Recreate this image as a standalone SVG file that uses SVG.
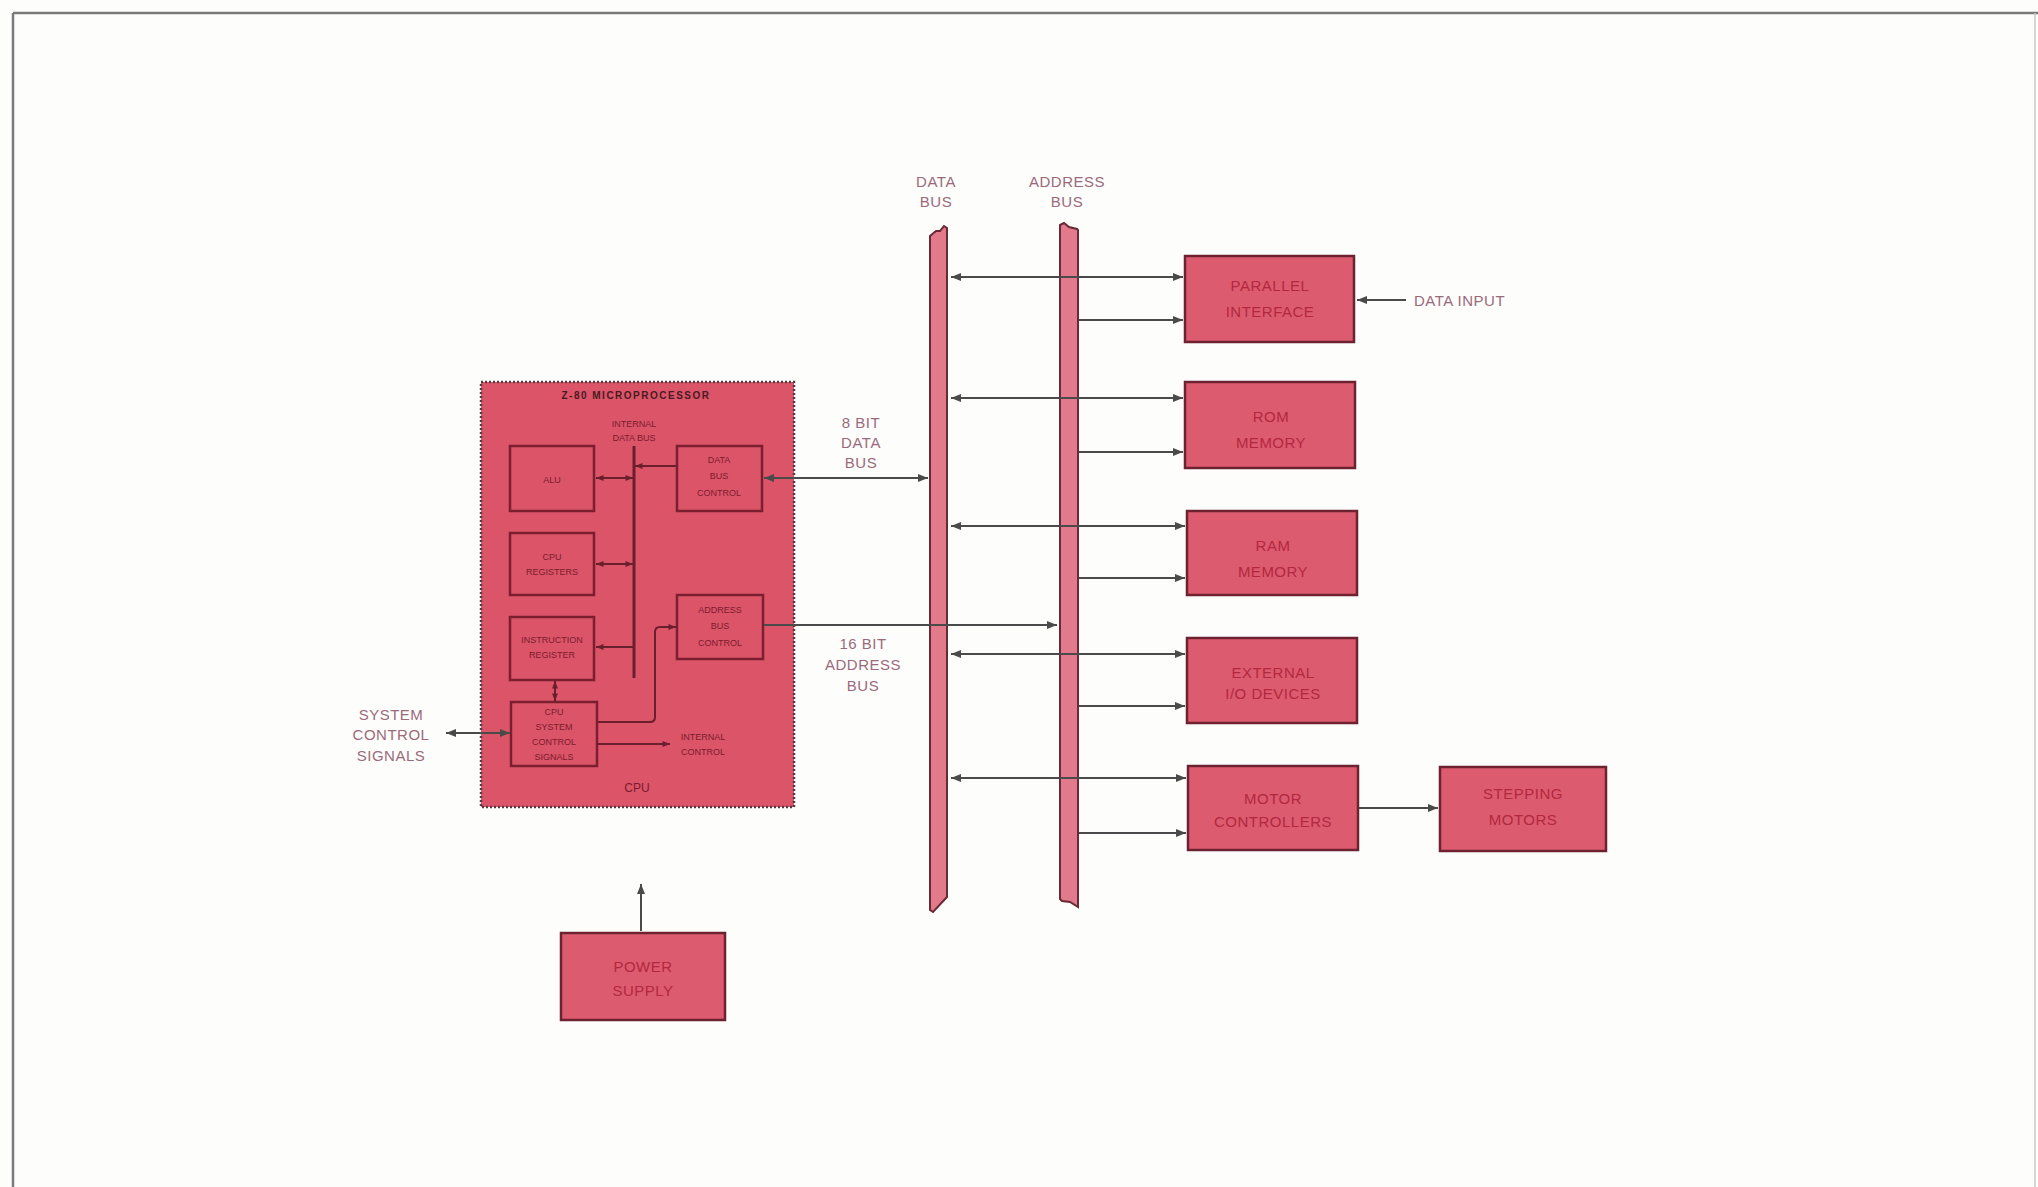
<svg xmlns="http://www.w3.org/2000/svg" width="2038" height="1187" viewBox="0 0 2038 1187">
<defs>
<marker id="ah" viewBox="0 0 10 8" refX="10" refY="4" markerWidth="13" markerHeight="8" markerUnits="userSpaceOnUse" orient="auto-start-reverse"><path d="M0,0 L10,4 L0,8 z" fill="#4a4a4a"/></marker>
<marker id="as" viewBox="0 0 10 8" refX="10" refY="4" markerWidth="9" markerHeight="6" markerUnits="userSpaceOnUse" orient="auto-start-reverse"><path d="M0,0 L10,4 L0,8 z" fill="#6a1f2c"/></marker>
<style>
.box{fill:#dc5b6f;stroke:#6e2230;stroke-width:2.5}
.ibox{fill:none;stroke:#7a1f30;stroke-width:2.5}
.bus{fill:#e27a8c;stroke:#6a2a35;stroke-width:2}
.lbl{font-family:"Liberation Sans",Arial,sans-serif;font-size:15px;fill:#9b6a7a;text-anchor:middle;dominant-baseline:central;letter-spacing:0.5px}
.bt{font-family:"Liberation Sans",Arial,sans-serif;font-size:15px;fill:#b3283f;text-anchor:middle;dominant-baseline:central;letter-spacing:0.5px}
.it{font-family:"Liberation Sans",Arial,sans-serif;font-size:9px;fill:#7a1c2c;text-anchor:middle;dominant-baseline:central}
.c{fill:none;stroke:#4a4a4a;stroke-width:2}
.ci{fill:none;stroke:#6a1f2c;stroke-width:2}
</style>
</defs>
<rect x="0" y="0" width="2038" height="1187" fill="#fdfdfc"/>
<g id="frame">
<line x1="13" y1="13" x2="2038" y2="13" stroke="#7a7a7a" stroke-width="2.5"/>
<line x1="13" y1="13" x2="13" y2="1187" stroke="#7a7a7a" stroke-width="2.5"/>
<line x1="2035" y1="13" x2="2035" y2="1187" stroke="#c8c8c8" stroke-width="1.5"/>
</g>

<g id="cpu">
<rect x="481" y="382" width="313" height="425" fill="#dc5468" stroke="#5a3a40" stroke-width="2.5" stroke-dasharray="2,2"/>
<text x="636" y="395" font-family="Liberation Sans,Arial,sans-serif" font-size="10" font-weight="bold" fill="#4a1a22" text-anchor="middle" dominant-baseline="central" letter-spacing="1.5">Z-80 MICROPROCESSOR</text>
<text class="it" x="634" y="424">INTERNAL</text>
<text class="it" x="634" y="438">DATA BUS</text>
<text class="it" x="637" y="788" style="font-size:12px">CPU</text>
<line x1="634" y1="446" x2="634" y2="678" stroke="#6a1f2c" stroke-width="3"/>
</g>
<g id="alu"><rect class="ibox" x="510" y="446" width="84" height="65"/><text class="it" x="552" y="480">ALU</text></g>
<g id="cpu-registers"><rect class="ibox" x="510" y="533" width="84" height="62"/><text class="it" x="552" y="557">CPU</text><text class="it" x="552" y="572">REGISTERS</text></g>
<g id="instruction-register"><rect class="ibox" x="510" y="617" width="84" height="63"/><text class="it" x="552" y="640">INSTRUCTION</text><text class="it" x="552" y="655">REGISTER</text></g>
<g id="cpu-system-control"><rect class="ibox" x="511" y="702" width="86" height="64"/><text class="it" x="554" y="712">CPU</text><text class="it" x="554" y="727">SYSTEM</text><text class="it" x="554" y="742">CONTROL</text><text class="it" x="554" y="757">SIGNALS</text></g>
<g id="data-bus-control"><rect class="ibox" x="677" y="446" width="85" height="65"/><text class="it" x="719" y="460">DATA</text><text class="it" x="719" y="476">BUS</text><text class="it" x="719" y="493">CONTROL</text></g>
<g id="address-bus-control"><rect class="ibox" x="677" y="595" width="86" height="64"/><text class="it" x="720" y="610">ADDRESS</text><text class="it" x="720" y="626">BUS</text><text class="it" x="720" y="643">CONTROL</text></g>
<g id="internal-control"><text class="it" x="703" y="737">INTERNAL</text><text class="it" x="703" y="752">CONTROL</text></g>

<g id="data-bus">
<polygon class="bus" points="930,236 936,231 940,231 944,226 947,228 947,897 933,912 930,910"/>
<text class="lbl" x="936" y="181">DATA</text><text class="lbl" x="936" y="201">BUS</text>
</g>
<g id="address-bus">
<polygon class="bus" points="1060,225 1064,223 1069,227 1077,229 1078,230 1078,907 1070,902 1062,901 1060,899"/>
<text class="lbl" x="1067" y="181">ADDRESS</text><text class="lbl" x="1067" y="201">BUS</text>
</g>

<g id="parallel-interface"><rect class="box" x="1185" y="256" width="169" height="86"/><text class="bt" x="1270" y="285">PARALLEL</text><text class="bt" x="1270" y="311">INTERFACE</text></g>
<g id="rom-memory"><rect class="box" x="1185" y="382" width="170" height="86"/><text class="bt" x="1271" y="416">ROM</text><text class="bt" x="1271" y="442">MEMORY</text></g>
<g id="ram-memory"><rect class="box" x="1187" y="511" width="170" height="84"/><text class="bt" x="1273" y="545">RAM</text><text class="bt" x="1273" y="571">MEMORY</text></g>
<g id="external-io"><rect class="box" x="1187" y="638" width="170" height="85"/><text class="bt" x="1273" y="672">EXTERNAL</text><text class="bt" x="1273" y="693">I/O DEVICES</text></g>
<g id="motor-controllers"><rect class="box" x="1188" y="766" width="170" height="84"/><text class="bt" x="1273" y="798">MOTOR</text><text class="bt" x="1273" y="821">CONTROLLERS</text></g>
<g id="stepping-motors"><rect class="box" x="1440" y="767" width="166" height="84"/><text class="bt" x="1523" y="793">STEPPING</text><text class="bt" x="1523" y="819">MOTORS</text></g>
<g id="power-supply"><rect class="box" x="561" y="933" width="164" height="87"/><text class="bt" x="643" y="966">POWER</text><text class="bt" x="643" y="990">SUPPLY</text></g>

<g id="labels">
<text class="lbl" x="1414" y="300" style="text-anchor:start">DATA INPUT</text>
<text class="lbl" x="861" y="422">8 BIT</text><text class="lbl" x="861" y="442">DATA</text><text class="lbl" x="861" y="462">BUS</text>
<text class="lbl" x="863" y="643">16 BIT</text><text class="lbl" x="863" y="664">ADDRESS</text><text class="lbl" x="863" y="685">BUS</text>
<text class="lbl" x="391" y="714">SYSTEM</text><text class="lbl" x="391" y="734">CONTROL</text><text class="lbl" x="391" y="755">SIGNALS</text>
</g>

<g id="connectors">
<line class="c" x1="951" y1="277" x2="1183" y2="277" marker-start="url(#ah)" marker-end="url(#ah)"/>
<line class="c" x1="951" y1="398" x2="1183" y2="398" marker-start="url(#ah)" marker-end="url(#ah)"/>
<line class="c" x1="951" y1="526" x2="1185" y2="526" marker-start="url(#ah)" marker-end="url(#ah)"/>
<line class="c" x1="951" y1="654" x2="1185" y2="654" marker-start="url(#ah)" marker-end="url(#ah)"/>
<line class="c" x1="951" y1="778" x2="1186" y2="778" marker-start="url(#ah)" marker-end="url(#ah)"/>
<line class="c" x1="1079" y1="320" x2="1183" y2="320" marker-end="url(#ah)"/>
<line class="c" x1="1079" y1="452" x2="1183" y2="452" marker-end="url(#ah)"/>
<line class="c" x1="1079" y1="578" x2="1185" y2="578" marker-end="url(#ah)"/>
<line class="c" x1="1079" y1="706" x2="1185" y2="706" marker-end="url(#ah)"/>
<line class="c" x1="1079" y1="833" x2="1186" y2="833" marker-end="url(#ah)"/>
<line class="c" x1="1406" y1="300" x2="1357" y2="300" marker-end="url(#ah)"/>
<line class="c" x1="1359" y1="808" x2="1438" y2="808" marker-end="url(#ah)"/>
<line class="c" x1="641" y1="931" x2="641" y2="884" marker-end="url(#ah)"/>
<line class="c" x1="764" y1="478" x2="928" y2="478" marker-start="url(#ah)" marker-end="url(#ah)"/>
<line class="c" x1="764" y1="625" x2="1057" y2="625" marker-end="url(#ah)"/>
<line class="c" x1="446" y1="733" x2="510" y2="733" marker-start="url(#ah)" marker-end="url(#ah)"/>
<line class="ci" x1="596" y1="478" x2="633" y2="478" marker-start="url(#as)" marker-end="url(#as)"/>
<line class="ci" x1="596" y1="564" x2="633" y2="564" marker-start="url(#as)" marker-end="url(#as)"/>
<line class="ci" x1="633" y1="647" x2="596" y2="647" marker-end="url(#as)"/>
<line class="ci" x1="635" y1="466" x2="676" y2="466" marker-start="url(#as)"/>
<line class="ci" x1="555" y1="681" x2="555" y2="701" marker-start="url(#as)" marker-end="url(#as)"/>
<path class="ci" d="M598,722 H650 Q655,722 655,717 V632 Q655,627 660,627 H676" marker-end="url(#as)"/>
<line class="ci" x1="598" y1="744" x2="670" y2="744" marker-end="url(#as)"/>
</g>
</svg>
